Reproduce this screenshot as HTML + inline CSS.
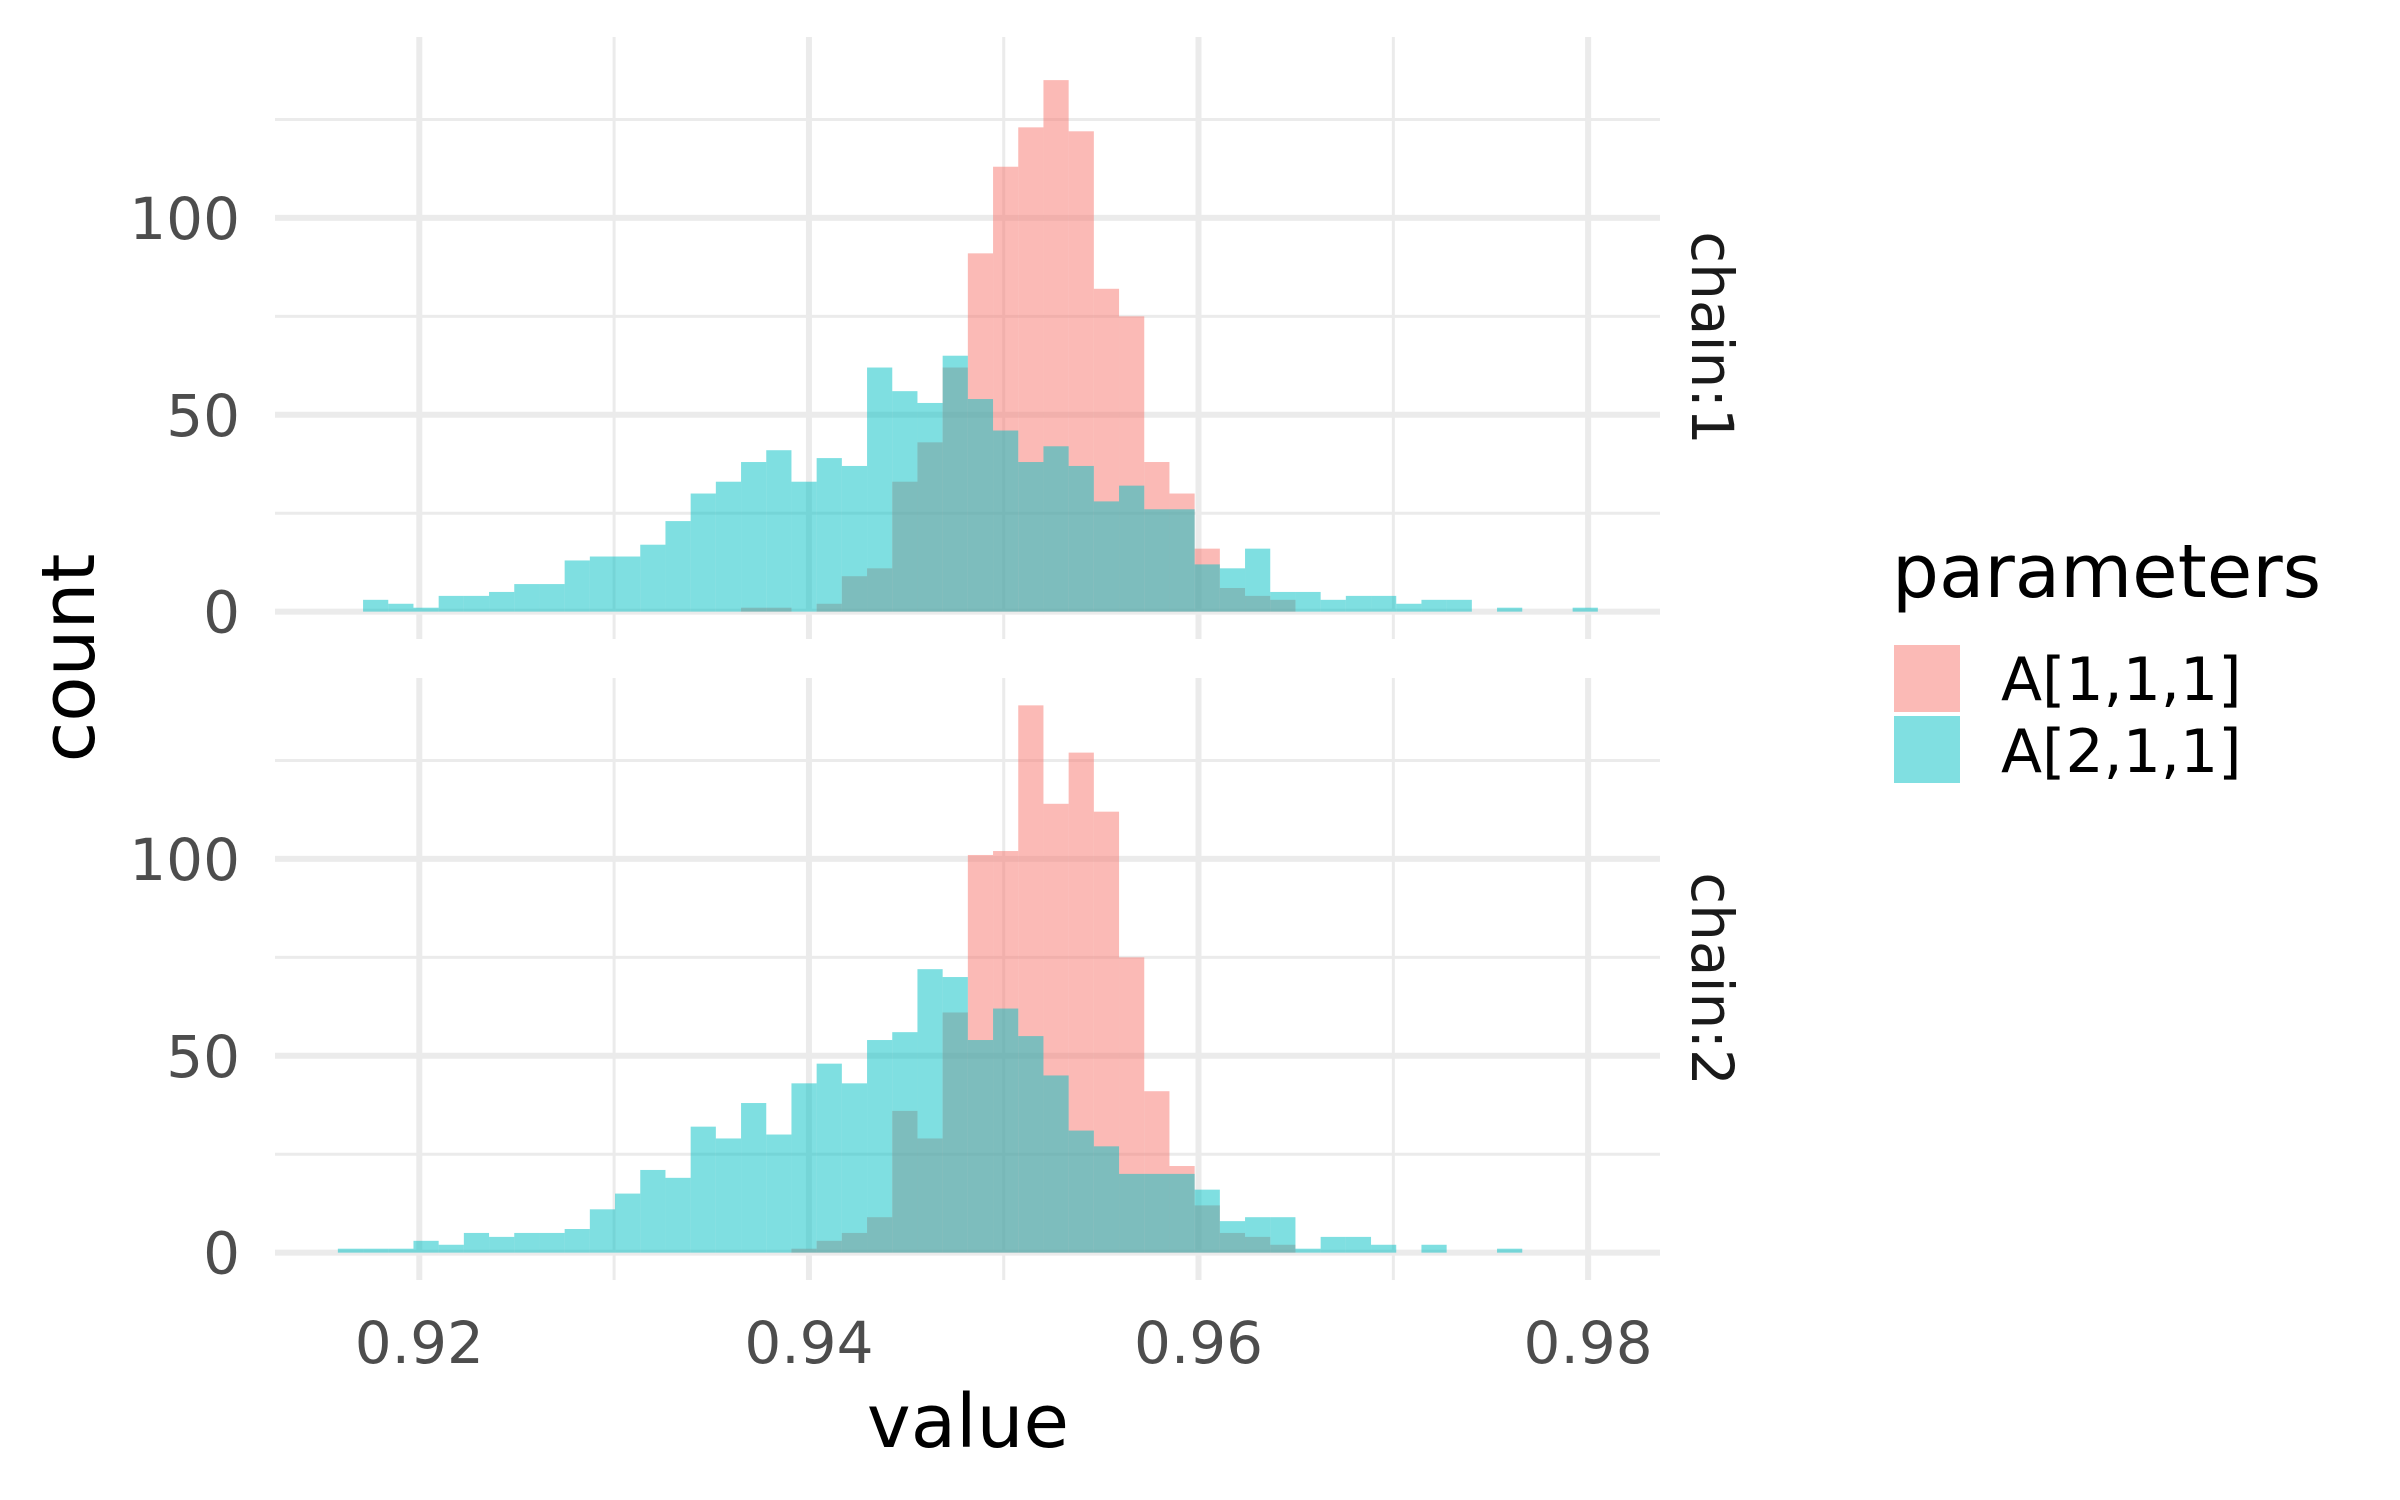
<!DOCTYPE html>
<html><head><meta charset="utf-8"><style>
html,body{margin:0;padding:0;background:#fff;}
svg{display:block;}
text{font-family:"DejaVu Sans","Liberation Sans",sans-serif;}
</style></head><body>
<svg id="chart" width="2400" height="1500" viewBox="0 0 2400 1500" xmlns="http://www.w3.org/2000/svg">
<g id="grid"></g>
<g id="bars"></g>
<g id="labels"></g>
</svg>
<script>
// bins: left edge = binStart + i*binWidth
const binStart = 0.915819;
const binWidth = 0.0012936;
const xTicks = [0.92, 0.94, 0.96, 0.98];
const xTickLabels = ["0.92", "0.94", "0.96", "0.98"];
const xMinor = [0.93, 0.95, 0.97];
const yTicks = [0, 50, 100];
const yTickLabels = ["0", "50", "100"];
const yMinor = [25, 75, 125];
const panels = ["chain:1", "chain:2"];
// counts per bin index 0..49
const chain1A1 = [0,0,0,0,0,0,0,0,0,0,0,0,0,0,0,0,1,1,0,2,9,11,33,43,62,91,113,123,135,122,82,75,38,30,16,6,4,3,0,0,0,0,0,0,0,0,0,0,0,0];
const chain1A2 = [0,3,2,1,4,4,5,7,7,13,14,14,17,23,30,33,38,41,33,39,37,62,56,53,65,54,46,38,42,37,28,32,26,26,12,11,16,5,5,3,4,4,2,3,3,0,1,0,0,1];
const chain2A1 = [0,0,0,0,0,0,0,0,0,0,0,0,0,0,0,0,0,0,1,3,5,9,36,29,61,101,102,139,114,127,112,75,41,22,12,5,4,2,0,0,0,0,0,0,0,0,0,0,0,0];
const chain2A2 = [1,1,1,3,2,5,4,5,5,6,11,15,21,19,32,29,38,30,43,48,43,54,56,72,70,54,62,55,45,31,27,20,20,20,16,8,9,9,1,4,4,2,0,2,0,0,1,0,0,0];

const NS = "http://www.w3.org/2000/svg";
const px0 = 275, px1 = 1660;
const xMin = 0.912592, xMax = 0.98369;
const yMin = -6.95, yMax = 145.95;
const panelTops = [37, 678], panelH = 602;
function sx(v){ return px0 + (v - xMin) / (xMax - xMin) * (px1 - px0); }
function sy(p, c){ return panelTops[p] + panelH - (c - yMin) / (yMax - yMin) * panelH; }
function mk(tag, attrs, parent){
  const e = document.createElementNS(NS, tag);
  for (const k in attrs) e.setAttribute(k, attrs[k]);
  parent.appendChild(e); return e;
}
const grid = document.getElementById('grid');
const bars = document.getElementById('bars');
const labels = document.getElementById('labels');

panels.forEach((name, p) => {
  const top = panelTops[p], bot = top + panelH;
  xMinor.forEach(v => {
    const l = mk('line', {x1:sx(v), x2:sx(v), y1:top, y2:bot, stroke:'#ebebeb', 'stroke-width':3}, grid);
    
    
  });
  yMinor.forEach(v => {
    const l = mk('line', {x1:px0, x2:px1, y1:sy(p,v), y2:sy(p,v), stroke:'#ebebeb', 'stroke-width':3}, grid);
    
    
  });
  xTicks.forEach(v => {
    const l = mk('line', {x1:sx(v), x2:sx(v), y1:top, y2:bot, stroke:'#ebebeb', 'stroke-width':6}, grid);
    
    
  });
  yTicks.forEach((v, i) => {
    const l = mk('line', {x1:px0, x2:px1, y1:sy(p,v), y2:sy(p,v), stroke:'#ebebeb', 'stroke-width':6}, grid);
    
    
    const t = mk('text', {x:240, y:sy(p,v)+21, 'text-anchor':'end', 'font-size':58, fill:'#4d4d4d'}, labels);
    t.textContent = yTickLabels[i];
    
    
  });
  const st = mk('text', {x:0, y:0, 'font-size':58, fill:'#1a1a1a', 'text-anchor':'middle',
    transform:'translate(1692,' + (top + panelH/2) + ') rotate(90)'}, labels);
  st.textContent = name;
  
  

  const series = p === 0 ? [chain1A1, chain1A2] : [chain2A1, chain2A2];
  const fills = ['rgba(248,118,109,0.5)', 'rgba(0,191,196,0.5)'];
  series.forEach((arr, s) => {
    arr.forEach((c, i) => {
      if (c <= 0) return;
      const xl = sx(binStart + i*binWidth), xr = sx(binStart + (i+1)*binWidth);
      const r = mk('rect', {x:xl, y:sy(p,c), width:xr-xl, height:sy(p,0)-sy(p,c), fill:fills[s]}, bars);
      
      
    });
  });
});
xTicks.forEach((v, i) => {
  const t = mk('text', {x:sx(v), y:1363, 'text-anchor':'middle', 'font-size':58, fill:'#4d4d4d'}, labels);
  t.textContent = xTickLabels[i];
  
  
});
</script>
<svg style="position:absolute;left:0;top:0" width="2400" height="1500">
<text x="968" y="1447" text-anchor="middle" font-size="74" fill="#000">value</text>
<text transform="translate(94,658) rotate(-90)" text-anchor="middle" font-size="74" fill="#000">count</text>
<text x="1892" y="597" font-size="74" fill="#000">parameters</text>
<rect x="1894" y="645" width="66" height="67" fill="#fbbab6"/>
<rect x="1894" y="716" width="66" height="67" fill="#80dfe1"/>
<text x="2001" y="700" font-size="60" fill="#000">A[1,1,1]</text>
<text x="2001" y="772" font-size="60" fill="#000">A[2,1,1]</text>
</svg>
</body></html>
